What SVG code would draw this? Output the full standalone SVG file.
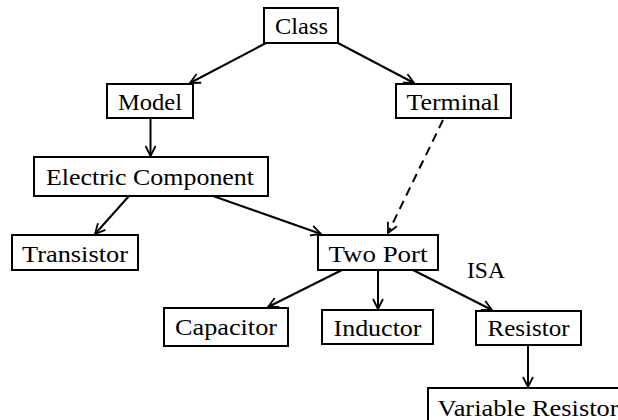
<svg xmlns="http://www.w3.org/2000/svg" width="618" height="420" viewBox="0 0 618 420">
<defs>
<marker id="arr" viewBox="0 0 12 12" refX="11" refY="6" markerWidth="12" markerHeight="12" markerUnits="userSpaceOnUse" orient="auto">
<path d="M1,1 L11,6 L1,11" fill="none" stroke="#000" stroke-width="1.8"/>
</marker>
<style>
.box{fill:#fff;stroke:#000;stroke-width:2}
.lbl{font-size:24px;fill:#000;text-anchor:middle}
.edge{fill:none;stroke:#000;stroke-width:2;marker-end:url(#arr)}
.dash{stroke-dasharray:9,6}
</style>
</defs>
<rect width="618" height="420" fill="#fff"/>
<g id="connectors">
<line class="edge" x1="266" y1="43" x2="190" y2="83"/>
<line class="edge" x1="338" y1="43" x2="414" y2="83"/>
<line class="edge" x1="150.5" y1="118" x2="150.5" y2="156"/>
<line class="edge dash" x1="443" y1="120" x2="388" y2="233"/>
<line class="edge" x1="129" y1="196" x2="95" y2="234"/>
<line class="edge" x1="213" y1="196" x2="321" y2="234"/>
<line class="edge" x1="342" y1="270" x2="268" y2="307"/>
<line class="edge" x1="378" y1="270" x2="378" y2="309"/>
<line class="edge" x1="413" y1="270" x2="492" y2="310"/>
<line class="edge" x1="528" y1="345" x2="528" y2="387"/>
</g>
<g font-family="'Liberation Serif', 'Times New Roman', serif">
<g id="class"><rect class="box" x="264" y="8" width="74" height="35"/><text class="lbl" x="301.5" y="34" textLength="53" lengthAdjust="spacingAndGlyphs">Class</text></g>
<g id="model"><rect class="box" x="107" y="84" width="86" height="34"/><text class="lbl" x="150" y="110" textLength="64" lengthAdjust="spacingAndGlyphs">Model</text></g>
<g id="terminal"><rect class="box" x="396" y="84" width="115" height="34"/><text class="lbl" x="453" y="110" textLength="93" lengthAdjust="spacingAndGlyphs">Terminal</text></g>
<g id="electric-component"><rect class="box" x="34" y="157" width="234" height="39"/><text class="lbl" x="150" y="185" textLength="208" lengthAdjust="spacingAndGlyphs">Electric Component</text></g>
<g id="transistor"><rect class="box" x="12" y="235" width="126" height="35"/><text class="lbl" x="75" y="262" textLength="106" lengthAdjust="spacingAndGlyphs">Transistor</text></g>
<g id="two-port"><rect class="box" x="318" y="235" width="120" height="35"/><text class="lbl" x="378" y="262" textLength="99" lengthAdjust="spacingAndGlyphs">Two Port</text></g>
<text class="lbl" x="486" y="278" textLength="38" lengthAdjust="spacingAndGlyphs">ISA</text>
<g id="capacitor"><rect class="box" x="164" y="308" width="124" height="38"/><text class="lbl" x="226" y="335" textLength="102" lengthAdjust="spacingAndGlyphs">Capacitor</text></g>
<g id="inductor"><rect class="box" x="322" y="310" width="111" height="34"/><text class="lbl" x="377.5" y="336" textLength="88" lengthAdjust="spacingAndGlyphs">Inductor</text></g>
<g id="resistor"><rect class="box" x="476" y="311" width="105" height="34"/><text class="lbl" x="528.5" y="336" textLength="82" lengthAdjust="spacingAndGlyphs">Resistor</text></g>
<g id="variable-resistor"><rect class="box" x="428" y="388" width="200" height="45"/><text class="lbl" x="528" y="416" textLength="181" lengthAdjust="spacingAndGlyphs">Variable Resistor</text></g>
</g>
</svg>
